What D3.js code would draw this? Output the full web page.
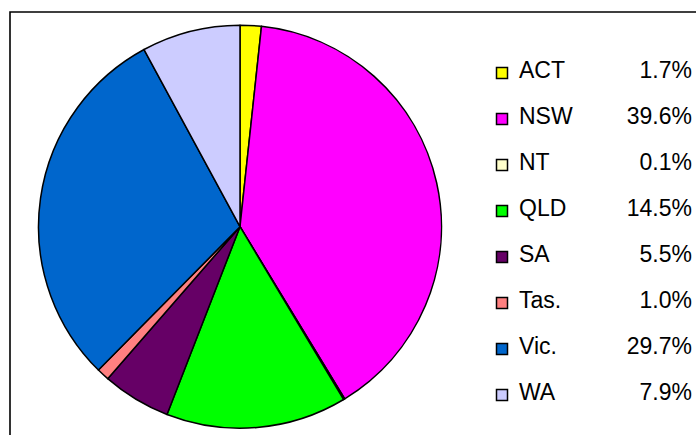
<!DOCTYPE html>
<html>
<head>
<meta charset="utf-8">
<script src="https://cdn.jsdelivr.net/npm/d3@7"></script>
<style>
html,body{margin:0;padding:0;background:#fff;}
svg{display:block;}
</style>
</head>
<body>
<script>
const categories = ["ACT","NSW","NT","QLD","SA","Tas.","Vic.","WA"];
const values = [1.7, 39.6, 0.1, 14.5, 5.5, 1.0, 29.7, 7.9];
const percentLabels = ["1.7%","39.6%","0.1%","14.5%","5.5%","1.0%","29.7%","7.9%"];
const colors = ["#FFFF00","#FF00FF","#FFFFCC","#00FF00","#660066","#FF8080","#0066CC","#CCCCFF"];

const W = 696, H = 435;
const svg = d3.select("body").append("svg").attr("width", W).attr("height", H);

// frame
svg.append("path")
  .attr("d", d3.line()([[10, H + 5], [10, 12], [W + 5, 12]]))
  .attr("fill", "none").attr("stroke", "#000").attr("stroke-width", 1.6);

const cx = 240, cy = 226.7, r = 201.5;
const data = categories.map((c, i) => ({cat: c, value: values[i], color: colors[i], label: percentLabels[i]}));

const pie = d3.pie().value(d => d.value).sort(null);
const arc = d3.arc().innerRadius(0).outerRadius(r);

svg.append("g").attr("transform", `translate(${cx},${cy})`)
  .selectAll("path").data(pie(data)).join("path")
  .attr("d", arc)
  .attr("fill", d => d.data.color)
  .attr("stroke", "#000").attr("stroke-width", 1.5)
  .attr("stroke-linejoin", "round");

// legend
const y = d3.scaleLinear().domain([0, 1]).range([78, 124]);
const lg = svg.append("g").style("font-family", "'Liberation Sans', Arial, sans-serif").attr("font-size", 23).attr("fill", "#000");
const rows = lg.selectAll("g").data(data).join("g")
  .attr("transform", (d, i) => `translate(0,${y(i)})`);
rows.append("rect").attr("x", 496.5).attr("y", -10.5).attr("width", 11).attr("height", 11)
  .attr("fill", d => d.color).attr("stroke", "#000").attr("stroke-width", 1.5);
rows.append("text").attr("x", 519).attr("y", 0).text(d => d.cat);
rows.append("text").attr("x", 692).attr("y", 0).attr("text-anchor", "end").text(d => d.label);
</script>
</body>
</html>
